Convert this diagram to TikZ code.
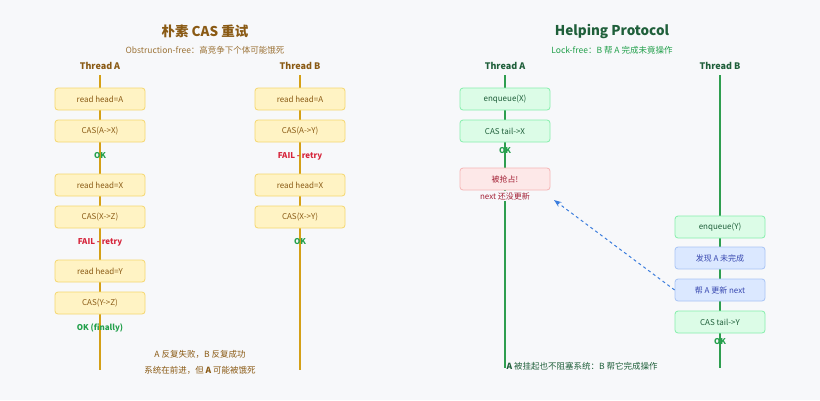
\documentclass[tikz,border=0pt]{standalone}
\usepackage{fontspec}
\setmainfont{Noto Sans CJK SC}
\usetikzlibrary{arrows.meta}
\definecolor{bgc}{HTML}{F7F8FA}
\definecolor{gold}{HTML}{D4A017}
\definecolor{ybox}{HTML}{FFF3C4}
\definecolor{yedge}{HTML}{F5D76E}
\definecolor{brown}{HTML}{8A5A14}
\definecolor{gline}{HTML}{2E9E4F}
\definecolor{gbox}{HTML}{DCFCE7}
\definecolor{gedge}{HTML}{86EFAC}
\definecolor{gtext}{HTML}{1F5F3A}
\definecolor{okc}{HTML}{22A04B}
\definecolor{failc}{HTML}{D6243A}
\definecolor{rbox}{HTML}{FDE8E8}
\definecolor{redge}{HTML}{F5B5B5}
\definecolor{rtext}{HTML}{A32035}
\definecolor{bbox}{HTML}{DBE8FF}
\definecolor{bedge}{HTML}{A8C4F5}
\definecolor{btext}{HTML}{3848B0}
\definecolor{arrowc}{HTML}{3B7DDD}
\tikzset{
  yop/.style={draw=yedge,fill=ybox,rounded corners=3pt,minimum width=90pt,minimum height=22pt,text=brown,font=\fontsize{8}{9}\selectfont,line width=0.8pt},
  gop/.style={yop,draw=gedge,fill=gbox,text=gtext},
  rop/.style={yop,draw=redge,fill=rbox,text=rtext},
  bop/.style={yop,draw=bedge,fill=bbox,text=btext},
  ok/.style={text=okc,font=\fontsize{8}{9}\selectfont\bfseries},
  fail/.style={text=failc,font=\fontsize{8}{9}\selectfont\bfseries},
}
\begin{document}
\begin{tikzpicture}[x=1pt,y=-1pt]
\fill[bgc] (0,0) rectangle (820,400);
% left panel
\node[text=brown,font=\fontsize{13.5}{15}\selectfont\bfseries] (ttlL) at (205,31) {朴素 CAS 重试};
\node[text=brown!85,font=\fontsize{8.5}{10}\selectfont] (subL) at (205,50) {Obstruction-free：高竞争下个体可能饿死};
\node[text=brown,font=\fontsize{9}{10}\selectfont\bfseries] (thLA) at (100,66) {Thread A};
\node[text=brown,font=\fontsize{9}{10}\selectfont\bfseries] (thLB) at (300,66) {Thread B};
\draw[gold,line width=1.5pt] (100,75) -- (100,370);
\draw[gold,line width=1.5pt] (300,75) -- (300,370);
\node[yop] (a1) at (100,99) {read head=A};
\node[yop] (a2) at (100,131) {CAS(A->X)};
\node[ok] (a3) at (100,156) {OK};
\node[yop] (a4) at (100,185) {read head=X};
\node[yop] (a5) at (100,217) {CAS(X->Z)};
\node[fail] (a6) at (100,242) {FAIL - retry};
\node[yop] (a7) at (100,271) {read head=Y};
\node[yop] (a8) at (100,303) {CAS(Y->Z)};
\node[ok] (a9) at (100,328) {OK (finally)};
\node[yop] (b1) at (300,99) {read head=A};
\node[yop] (b2) at (300,131) {CAS(A->Y)};
\node[fail] (b3) at (300,156) {FAIL - retry};
\node[yop] (b4) at (300,185) {read head=X};
\node[yop] (b5) at (300,217) {CAS(X->Y)};
\node[ok] (b6) at (300,242) {OK};
\node[text=brown,font=\fontsize{8.5}{10}\selectfont] (noteL1) at (200,354) {A 反复失败，B 反复成功};
\node[text=brown,font=\fontsize{8.5}{10}\selectfont] (noteL2) at (200,370) {系统在前进，但 \textbf{A} 可能被饿死};
% right panel
\node[text=gtext,font=\fontsize{13.5}{15}\selectfont\bfseries] (ttlR) at (612,31) {Helping Protocol};
\node[text=okc,font=\fontsize{8.5}{10}\selectfont] (subR) at (612,50) {Lock-free：B 帮 A 完成未竟操作};
\node[text=gtext,font=\fontsize{9}{10}\selectfont\bfseries] (thRA) at (505,66) {Thread A};
\node[text=gtext,font=\fontsize{9}{10}\selectfont\bfseries] (thRB) at (720,66) {Thread B};
\draw[gline,line width=1.5pt] (505,75) -- (505,368);
\draw[gline,line width=1.5pt] (720,75) -- (720,368);
\node[gop] (c1) at (505,99) {enqueue(X)};
\node[gop] (c2) at (505,131) {CAS tail->X};
\node[ok] (c3) at (505,151) {OK};
\node[rop] (c4) at (505,179) {被抢占!};
\node[text=rtext,font=\fontsize{8}{9}\selectfont,fill=bgc,inner sep=1pt] (c5) at (505,196) {next 还没更新};
\node[gop] (d1) at (720,227) {enqueue(Y)};
\node[bop] (d2) at (720,258) {发现 A 未完成};
\node[bop] (d3) at (720,290) {帮 A 更新 next};
\node[gop] (d4) at (720,322) {CAS tail->Y};
\node[ok] (d5) at (720,342) {OK};
\coordinate (help) at (554,200);
\draw[arrowc,dashed,line width=1pt,-{Stealth[open]}] (d3.west) -- (help);
\node[text=gtext,anchor=west,font=\fontsize{8.5}{10}\selectfont] (noteR) at (503,366) {\textbf{A} 被挂起也不阻塞系统：B 帮它完成操作};
\end{tikzpicture}
\end{document}
